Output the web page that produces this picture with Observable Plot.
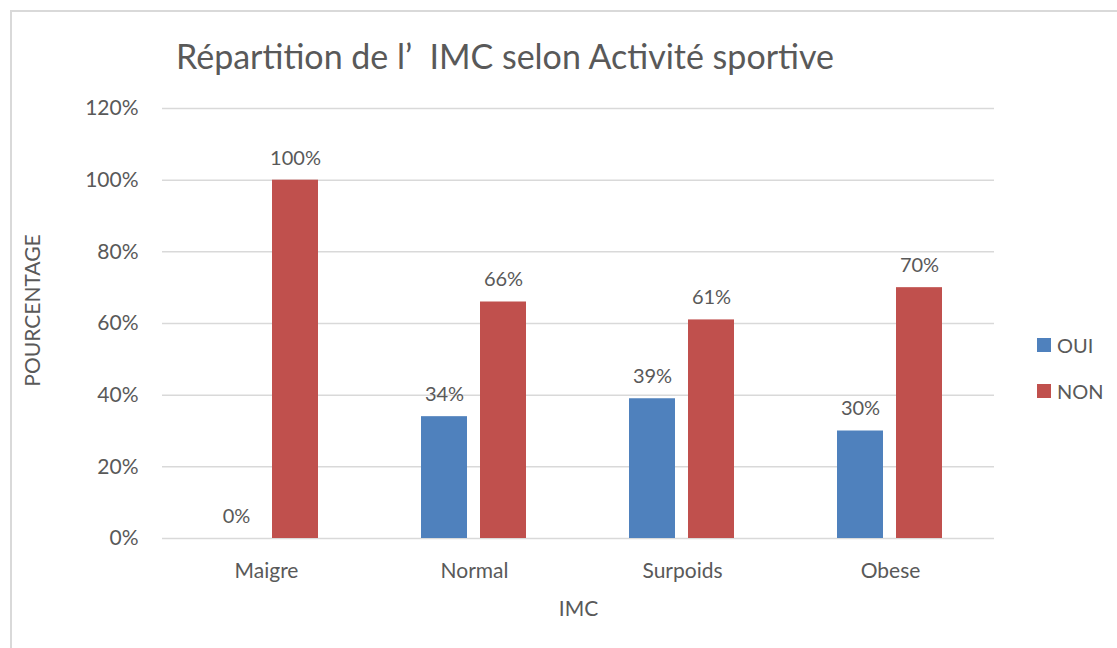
<!DOCTYPE html>
<html>
<head>
<meta charset="utf-8">
<script src="https://cdn.jsdelivr.net/npm/d3@7"></script>
<script src="https://cdn.jsdelivr.net/npm/@observablehq/plot@0.6"></script>
<style>
  html, body { margin: 0; padding: 0; background: #fff; width: 1117px; height: 648px; overflow: hidden; }
  #frame { position: absolute; left: 10px; top: 10px; width: 1200px; height: 700px; border: 2px solid #d9d9d9; box-sizing: border-box; }
  #title { position: absolute; left: 0; top: 0; width: 1117px; height: 90px; }
  #title span { position: absolute; left: 176px; top: 35px; font-family: Lato, sans-serif; font-size: 34px; color: #595959; white-space: nowrap; }
  #chart { position: absolute; left: 0; top: 90px; }
  #legend { position: absolute; left: 1037px; top: 330px; font-family: Lato, sans-serif; font-size: 20px; color: #595959; }
  .item { display: flex; align-items: center; height: 30px; margin-bottom: 16px; }
  .sw { width: 14px; height: 14px; margin-right: 6px; }
</style>
</head>
<body>
<div id="frame"></div>
<div id="title"><span>Répartition de l’&nbsp; IMC selon Activité sportive</span></div>
<div id="chart"></div>
<div id="legend"></div>
<script>
const categories = ["Maigre", "Normal", "Surpoids", "Obese"];
const series = ["OUI", "NON"];
const colors = ["#4F81BD", "#C0504D"];
const valuesOUI = [0.00, 0.34, 0.39, 0.30];
const valuesNON = [1.00, 0.66, 0.61, 0.70];
const yTicks = [0, 0.2, 0.4, 0.6, 0.8, 1.0, 1.2];

const data = [];
categories.forEach((c, i) => {
  data.push({cat: c, serie: "OUI", value: valuesOUI[i]});
  data.push({cat: c, serie: "NON", value: valuesNON[i]});
});

const pct = d3.format(".0%");
const textColor = "#595959";

const chart = Plot.plot({
  width: 1117,
  height: 558,
  marginLeft: 160,
  marginRight: 122,
  marginTop: 18,
  marginBottom: 110,
  style: {fontFamily: "Lato, sans-serif", fontSize: "21px", color: textColor, background: "transparent"},
  fx: {domain: categories, padding: 0},
  x: {domain: series, paddingInner: 0.217, paddingOuter: 0.848, axis: null},
  y: {domain: [0, 1.2], ticks: yTicks},
  color: {domain: series, range: colors},
  marks: [
    Plot.gridY(yTicks, {stroke: "#d9d9d9", strokeOpacity: 1, strokeWidth: 1.5}),
    Plot.barY(data, {fx: "cat", x: "serie", y: "value", fill: "serie"}),
    Plot.text(data, {fx: "cat", x: "serie", y: "value", text: d => pct(d.value), dy: -22, lineAnchor: "middle", fill: textColor, fontSize: 20}),
    Plot.axisY({ticks: yTicks, tickFormat: pct, tickSize: 0, tickPadding: 24, label: "POURCENTAGE", labelAnchor: "center", labelArrow: "none", labelOffset: 137, fill: textColor, fontSize: 21}),
    Plot.axisFx({anchor: "bottom", tickSize: 0, tickPadding: 25, label: "IMC", labelAnchor: "center", labelArrow: "none", labelOffset: 77, fill: textColor, fontSize: 21})
  ]
});
document.getElementById("chart").appendChild(chart);

// nudge the y-axis title upward as in the reference
d3.select(chart).selectAll('g[aria-label="y-axis label"]').each(function() {
  const g = d3.select(this);
  const t = g.attr("transform") || "";
  g.attr("transform", "translate(0,-13) " + t);
});

const legend = document.getElementById("legend");
series.forEach((s, i) => {
  const item = document.createElement("div");
  item.className = "item";
  const sw = document.createElement("div");
  sw.className = "sw";
  sw.style.background = colors[i];
  const lab = document.createElement("span");
  lab.textContent = s;
  item.appendChild(sw);
  item.appendChild(lab);
  legend.appendChild(item);
});
</script>
</body>
</html>
